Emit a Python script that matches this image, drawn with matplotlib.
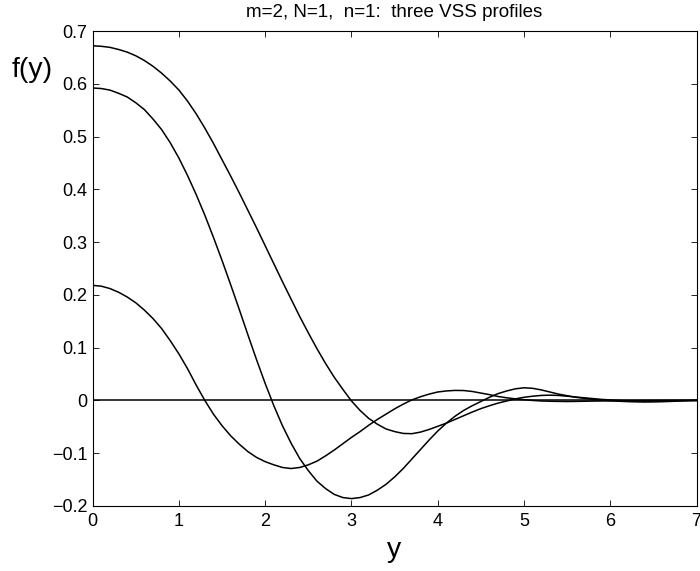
from matplotlib import pyplot as plt

# sample positions along y (read every 0.1 off the picture)
y_grid = [0.0, 0.1, 0.2, 0.3, 0.4, 0.5, 0.6, 0.7, 0.8, 0.9,
          1.0, 1.1, 1.2, 1.3, 1.4, 1.5, 1.6, 1.7, 1.8, 1.9,
          2.0, 2.1, 2.2, 2.3, 2.4, 2.5, 2.6, 2.7, 2.8, 2.9,
          3.0, 3.1, 3.2, 3.3, 3.4, 3.5, 3.6, 3.7, 3.8, 3.9,
          4.0, 4.1, 4.2, 4.3, 4.4, 4.5, 4.6, 4.7, 4.8, 4.9,
          5.0, 5.1, 5.2, 5.3, 5.4, 5.5, 5.6, 5.7, 5.8, 5.9,
          6.0, 6.1, 6.2, 6.3, 6.4, 6.5, 6.6, 6.7, 6.8, 6.9, 7.0]

# profile 1 (largest amplitude at y=0)
f_a = [0.672, 0.671, 0.669, 0.665, 0.660, 0.653, 0.644, 0.633, 0.620, 0.605,
       0.588, 0.567, 0.543, 0.516, 0.487, 0.456, 0.425, 0.393, 0.360, 0.327,
       0.293, 0.259, 0.225, 0.192, 0.159, 0.128, 0.098, 0.070, 0.044, 0.021,
       -0.001, -0.019, -0.034, -0.045, -0.054, -0.059, -0.0625, -0.063, -0.060, -0.055,
       -0.049, -0.043, -0.036, -0.029, -0.022, -0.0155, -0.010, -0.005, -0.001, 0.003,
       0.006, 0.008, 0.0095, 0.010, 0.0095, 0.008, 0.0065, 0.005, 0.0035, 0.002,
       0.001, 0.0, -0.0005, -0.001, -0.001, -0.001, -0.0008, -0.0005, -0.0003, -0.0001, 0.0]

# profile 2
f_b = [0.592, 0.591, 0.588, 0.582, 0.575, 0.564, 0.551, 0.533, 0.513, 0.488,
       0.459, 0.426, 0.390, 0.351, 0.309, 0.265, 0.219, 0.172, 0.124, 0.077,
       0.032, -0.010, -0.048, -0.081, -0.110, -0.133, -0.153, -0.167, -0.178, -0.184,
       -0.186, -0.184, -0.179, -0.170, -0.159, -0.145, -0.129, -0.111, -0.093, -0.075,
       -0.058, -0.043, -0.030, -0.019, -0.010, -0.002, 0.006, 0.013, 0.018, 0.022,
       0.024, 0.023, 0.020, 0.016, 0.012, 0.009, 0.006, 0.004, 0.002, 0.0005,
       -0.0005, -0.0015, -0.0022, -0.0027, -0.003, -0.0028, -0.0024, -0.0018, -0.0012, -0.0006, 0.0]

# profile 3 (smallest amplitude)
f_c = [0.218, 0.2165, 0.212, 0.205, 0.196, 0.185, 0.171, 0.155, 0.136, 0.113,
       0.088, 0.060, 0.029, 0.000, -0.026, -0.048, -0.067, -0.083, -0.097, -0.108,
       -0.116, -0.122, -0.127, -0.129, -0.127, -0.122, -0.115, -0.105, -0.094, -0.082,
       -0.070, -0.059, -0.047, -0.036, -0.026, -0.016, -0.007, 0.001, 0.007, 0.012,
       0.016, 0.018, 0.019, 0.0188, 0.017, 0.014, 0.011, 0.0075, 0.005, 0.003,
       0.0015, 0.0, -0.001, -0.0015, -0.0018, -0.002, -0.0018, -0.0015, -0.0012, -0.001,
       -0.0008, -0.0006, -0.0004, -0.0003, -0.0002, -0.0001, 0.0, 0.0, 0.0, 0.0, 0.0]

# trivial solution
y_zero = [0, 7]
f_zero = [0, 0]

x_ticks = [0, 1, 2, 3, 4, 5, 6, 7]
y_ticks = [-0.2, -0.1, 0, 0.1, 0.2, 0.3, 0.4, 0.5, 0.6, 0.7]
y_tick_labels = ['\u22120.2', '\u22120.1', '0', '0.1', '0.2', '0.3', '0.4', '0.5', '0.6', '0.7']

plt.rcParams['font.family'] = ['Liberation Sans', 'DejaVu Sans']

fig = plt.figure(figsize=(7, 5.71), dpi=100)
ax = fig.add_axes([92.7 / 700, 65 / 571, 603.8 / 700, 475 / 571])

for fs in [f_a, f_b, f_c]:
    ax.plot(y_grid, fs, color='black', linewidth=1.1)
ax.plot(y_zero, f_zero, color='black', linewidth=1.1)

ax.set_xlim(0, 7)
ax.set_ylim(-0.2, 0.7)
ax.set_xticks(x_ticks)
ax.set_yticks(y_ticks)
ax.set_yticklabels(y_tick_labels)
ax.tick_params(direction='in', top=True, right=True, length=4, width=0.6,
               labelsize=13)
ax.tick_params(axis='x', pad=5)
ax.tick_params(axis='y', pad=4)
for spine in ax.spines.values():
    spine.set_linewidth(0.8)

ax.set_title('m=2, N=1,  n=1:  three VSS profiles', fontsize=13.5, pad=10)
ax.set_xlabel('y', fontsize=20.5, va='baseline', ha='center')
ax.xaxis.set_label_coords(0.5, -0.107)
ax.set_ylabel('f(y)', fontsize=20.5, rotation=0, va='baseline', ha='left')
ax.yaxis.set_label_coords(-0.134, 0.903)

fig.savefig('out.png', dpi=100)
